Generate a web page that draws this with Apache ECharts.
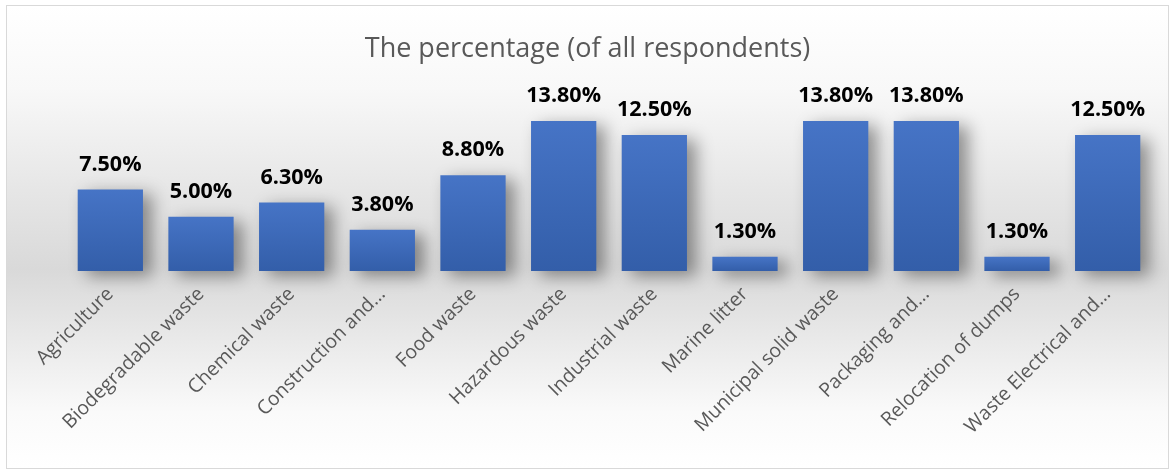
<!DOCTYPE html>
<html>
<head>
<meta charset="utf-8">
<script src="https://cdn.jsdelivr.net/npm/echarts@6/dist/echarts.min.js"></script>
<style>
html,body{margin:0;padding:0;background:#fff;}
#wrap{position:absolute;left:6px;top:5px;width:1161px;height:462px;border:1.5px solid #d9d9d9;
background:linear-gradient(to bottom,#ffffff 0%,#f8f8f8 18%,#e6e6e6 40%,#d9d9d9 57%,#e9e9e9 72%,#fafafa 88%,#ffffff 100%);}
#chart{position:absolute;left:0;top:0;width:1175px;height:472px;}
</style>
</head>
<body>
<div id="wrap"></div>
<div id="chart"></div>
<script>
const categories = ["Agriculture","Biodegradable waste","Chemical waste","Construction and\u2026","Food waste","Hazardous waste","Industrial waste","Marine litter","Municipal solid waste","Packaging and\u2026","Relocation of dumps","Waste Electrical and\u2026"];
const values = [7.5,5.0,6.3,3.8,8.8,13.8,12.5,1.3,13.8,13.8,1.3,12.5];
const titleText = "The percentage (of all respondents)";

const chart = echarts.init(document.getElementById('chart'));
chart.setOption({
  animation:false,
  backgroundColor:'transparent',
  title:{text:titleText,left:'center',top:31,textStyle:{fontFamily:'Open Sans',fontSize:27,fontWeight:'normal',color:'#595959'}},
  grid:{left:65,right:22,top:97,bottom:201,containLabel:false},
  xAxis:{type:'category',data:categories,
    axisLine:{show:false},axisTick:{show:false},
    axisLabel:{rotate:45,interval:0,margin:20,fontFamily:'Open Sans',fontSize:19.5,color:'#595959'}},
  yAxis:{type:'value',min:0,max:16,show:false,splitLine:{show:false}},
  series:[{type:'bar',data:values,barCategoryGap:'28%',
    itemStyle:{color:new echarts.graphic.LinearGradient(0,0,0,1,[{offset:0,color:'#4674c6'},{offset:1,color:'#335ea9'}]),
      shadowColor:'rgba(0,0,0,0.4)',shadowBlur:16,shadowOffsetX:9,shadowOffsetY:5},
    label:{show:true,position:'top',distance:14,formatter:p=>p.value.toFixed(2)+'%',
      fontFamily:'Open Sans',fontWeight:'bold',fontSize:21.5,color:'#000'}}]
});
</script>
</body>
</html>
